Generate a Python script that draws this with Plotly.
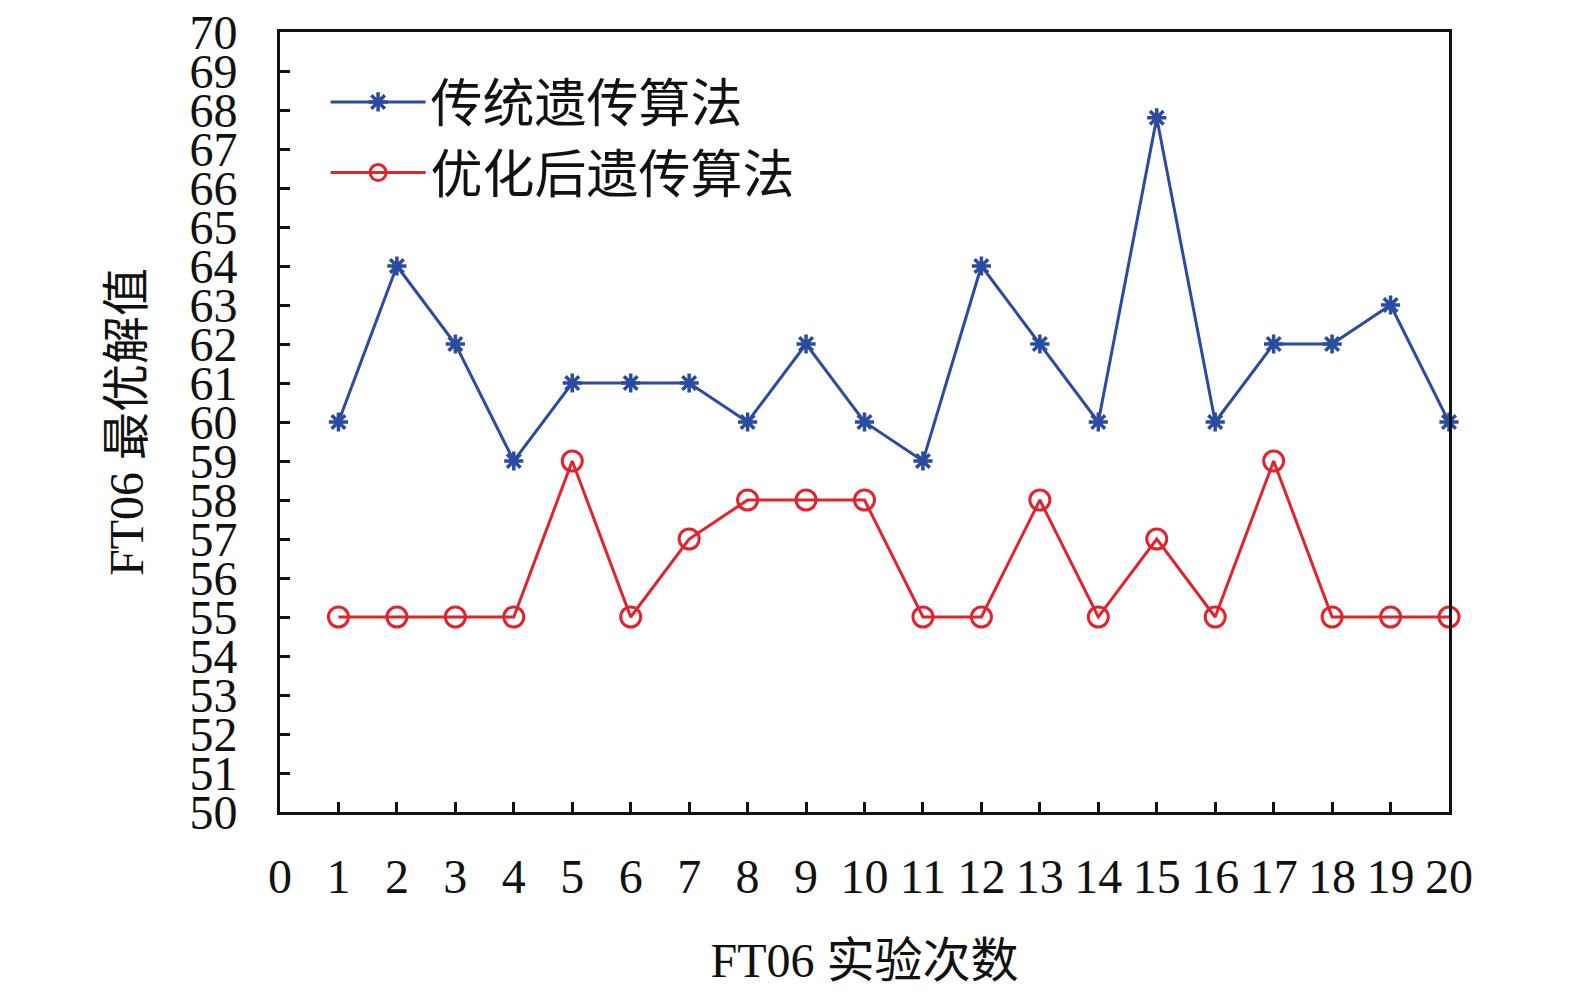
import plotly.graph_objects as go

# experiment index 1..20
runs = list(range(1, 21))

# best solution values
traditional_ga = [60, 64, 62, 59, 61, 61, 61, 60, 62, 60,
                  59, 64, 62, 60, 67.8, 60, 62, 62, 63, 60]
optimized_ga = [55, 55, 55, 55, 59, 55, 57, 58, 58, 58,
                55, 55, 58, 55, 57, 55, 59, 55, 55, 55]

x_ticks = list(range(0, 21))
y_ticks = list(range(50, 71))

blue = '#2b4ba1'
red = '#e2232b'
font_family = 'Liberation Serif, Noto Sans CJK SC, serif'

fig = go.Figure()

fig.add_trace(go.Scatter(
    x=runs, y=traditional_ga, mode='lines+markers', name='传统遗传算法',
    line=dict(color=blue, width=3),
    marker=dict(symbol='asterisk-open', size=16, line=dict(color=blue, width=3.5)),
    cliponaxis=False,
))
fig.add_trace(go.Scatter(
    x=runs, y=optimized_ga, mode='lines+markers', name='优化后遗传算法',
    line=dict(color=red, width=3),
    marker=dict(symbol='circle-open', size=20, line=dict(color=red, width=3)),
    cliponaxis=False,
))

fig.update_layout(
    width=1575, height=998,
    margin=dict(l=272, r=134, t=24, b=194),
    paper_bgcolor='white', plot_bgcolor='white',
    font=dict(family=font_family, size=48, color='#111111'),
    showlegend=True,
    legend=dict(
        x=0.039, y=0.962, xanchor='left', yanchor='top',
        bgcolor='rgba(0,0,0,0)', font=dict(size=52),
        itemwidth=95, tracegroupgap=0,
    ),
    xaxis=dict(
        range=[0, 20], tickvals=x_ticks, ticktext=[str(v) for v in x_ticks],
        ticks='inside', ticklen=10, tickwidth=3, tickcolor='#111111',
        showline=True, linecolor='#111111', linewidth=3, mirror=True,
        showgrid=False, zeroline=False, ticklabelstandoff=20, automargin=False,
        ticklabeloverflow='allow',
        title=dict(text='FT06 实验次数', font=dict(size=48), standoff=42),
    ),
    yaxis=dict(
        range=[50, 70], tickvals=y_ticks, ticktext=[str(v) for v in y_ticks],
        ticks='inside', ticklen=10, tickwidth=3, tickcolor='#111111',
        showline=True, linecolor='#111111', linewidth=3, mirror=True,
        showgrid=False, zeroline=False, ticklabelstandoff=30, automargin=False,
        ticklabeloverflow='allow',
        title=dict(text='FT06 最优解值', font=dict(size=48), standoff=31),
    ),
)

fig.write_html("out.html")
